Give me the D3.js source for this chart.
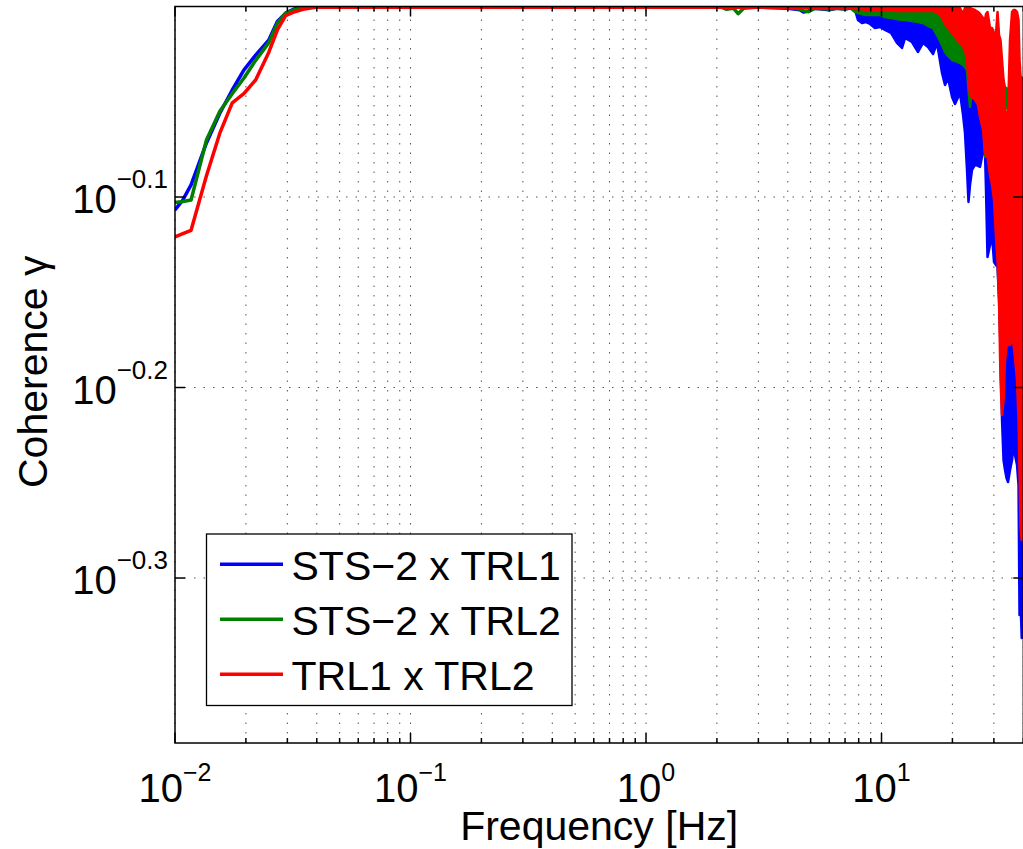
<!DOCTYPE html>
<html>
<head>
<meta charset="utf-8">
<title>Coherence</title>
<script src="https://cdnjs.cloudflare.com/ajax/libs/d3/7.8.5/d3.min.js"></script>
<style>
  body { margin: 0; background: #fff; }
  text { font-family: "Liberation Sans", Arial, Helvetica, sans-serif; fill: #000; }
</style>
</head>
<body>
<svg id="chart" width="1023" height="849"></svg>
<script>
// ---- data ----
var xTickExp = [-2, -1, 0, 1];
var yTickExp = ["-0.1", "-0.2", "-0.3"];
var seriesNames = ["STS\u22122 x TRL1", "STS\u22122 x TRL2", "TRL1 x TRL2"];
var seriesColors = ["#0000ff", "#008000", "#ff0000"];

// smooth part (0.01 .. 7.35 Hz)
var freqLow = [0.0100, 0.0108, 0.0117, 0.0136, 0.0155, 0.0175, 0.0196, 0.0220, 0.0250, 0.0272,
  0.0295, 0.0320, 0.0350, 0.0400, 0.0470, 0.070, 0.20, 0.50, 1.00, 1.80,
  2.10, 2.20, 2.35, 2.46, 2.60, 3.00, 4.00, 4.50, 4.66, 4.90,
  5.20, 6.00, 6.50, 7.00, 7.35];
var blueLow = [0.782, 0.7915, 0.806, 0.848, 0.879, 0.904, 0.926, 0.943, 0.960, 0.982,
  0.992, 0.997, 0.9992, 0.9993, 0.9993, 0.9993, 0.9993, 0.9993, 0.9993, 0.9993,
  0.9993, 0.9993, 0.9993, 0.9993, 0.9993, 0.9993, 0.998, 0.996, 0.9934, 0.9946,
  0.998, 0.996, 0.998, 0.997, 0.9982];
var greenLow = [0.789, 0.790, 0.7915, 0.851, 0.881, 0.900, 0.917, 0.937, 0.957, 0.980,
  0.992, 0.996, 0.999, 0.9993, 0.9993, 0.9993, 0.9993, 0.9993, 0.9993, 0.9993,
  0.999, 0.9966, 0.998, 0.9913, 0.998, 0.9993, 0.9985, 0.997, 0.995, 0.9937,
  0.998, 0.997, 0.998, 0.997, 0.9988];
var redLow = [0.757, 0.760, 0.763, 0.815, 0.858, 0.890, 0.900, 0.915, 0.946, 0.972,
  0.989, 0.9934, 0.9966, 0.9994, 0.9992, 0.9992, 0.9992, 0.9992, 0.9992, 0.9992,
  0.9992, 0.9992, 0.9992, 0.9992, 0.9992, 0.9992, 0.9992, 0.9992, 0.9992, 0.9992,
  0.9992, 0.9992, 0.9992, 0.9992, 0.9988];

// noisy part (7.35 .. 40 Hz): upper / lower envelope of the dense trace
var freqBand = [7.35, 7.72, 7.94, 8.26, 8.59, 8.94, 9.38, 9.85, 10.35, 10.97,
  11.63, 12.22, 12.58, 13.47, 14.29, 15.00, 15.76, 16.55, 17.21, 18.07,
  18.61, 19.16, 19.93, 20.52, 21.54, 22.19, 22.62, 23.07, 23.41, 23.76,
  24.23, 24.95, 25.69, 26.20, 26.98, 27.51, 27.78, 28.19, 28.89, 29.46,
  30.04, 30.64, 31.09, 31.55, 32.01, 32.49, 32.97, 33.46, 33.95, 34.45,
  35.13, 35.83, 36.36, 36.89, 37.62, 38.18, 38.55, 38.93, 39.39, 39.90];
var blueHi = [0.9994, 0.9982, 0.9934, 0.9910, 0.9910, 0.9898, 0.9898, 0.9898, 0.9874, 0.9862,
  0.9838, 0.9838, 0.9838, 0.9826, 0.9814, 0.9803, 0.9779, 0.9755, 0.9696, 0.9603,
  0.9511, 0.9465, 0.9397, 0.9374, 0.9352, 0.9340, 0.9306, 0.9262, 0.9206, 0.9150,
  0.9096, 0.9063, 0.8986, 0.8932, 0.8825, 0.8719, 0.8667, 0.8667, 0.8719, 0.8667,
  0.8511, 0.8409, 0.8359, 0.8308, 0.8208, 0.7915, 0.7451, 0.7015, 0.6684, 0.6604,
  0.6644, 0.6684, 0.6644, 0.6525, 0.6446, 0.6215, 0.5850, 0.5507, 0.5311, 0.5376];
var blueLo = [0.9982, 0.9958, 0.9838, 0.9803, 0.9814, 0.9791, 0.9743, 0.9755, 0.9720, 0.9685,
  0.9569, 0.9511, 0.9626, 0.9580, 0.9465, 0.9569, 0.9522, 0.9442, 0.9569, 0.9228,
  0.9096, 0.9172, 0.8964, 0.8889, 0.9008, 0.8772, 0.8583, 0.8208, 0.7896, 0.8060,
  0.8208, 0.8258, 0.8248, 0.8238, 0.8389, 0.8379, 0.8011, 0.7388, 0.7496, 0.7587,
  0.7343, 0.7317, 0.7299, 0.7015, 0.6644, 0.6067, 0.5780, 0.5710, 0.5655, 0.5628,
  0.5710, 0.5780, 0.5886, 0.5815, 0.5745, 0.5608, 0.4793, 0.4880, 0.4661, 0.5122];
var greenHi = [0.9994, 0.9994, 0.9994, 0.9994, 0.9994, 0.9994, 0.9994, 0.9994, 0.9994, 0.9994,
  0.9994, 0.9994, 0.9994, 0.9994, 0.9994, 0.9994, 0.9994, 0.9982, 0.9958, 0.9934,
  0.9898, 0.9862, 0.9838, 0.9814, 0.9779, 0.9743, 0.9720, 0.9696, 0.9661, 0.9626,
  0.9603, 0.9580, 0.9546, 0.9511, 0.9488, 0.9465, 0.9431, 0.9431, 0.9374, 0.9374,
  0.9352, 0.9318, 0.9318, 0.9262, 0.9262, 0.9206, 0.9150, 0.9063, 0.9063, 0.9041,
  0.8986, 0.8719, 0.8825, 0.8825, 0.8825, 0.8772, 0.8719, 0.8409, 0.8188, 0.8208];
var greenLo = [0.9982, 0.9934, 0.9922, 0.9910, 0.9898, 0.9898, 0.9898, 0.9898, 0.9874, 0.9862,
  0.9850, 0.9838, 0.9838, 0.9826, 0.9814, 0.9803, 0.9767, 0.9743, 0.9661, 0.9546,
  0.9465, 0.9420, 0.9374, 0.9363, 0.9340, 0.9318, 0.9295, 0.9262, 0.9041, 0.8857,
  0.9041, 0.9063, 0.8986, 0.8932, 0.8825, 0.8339, 0.8339, 0.8614, 0.8511, 0.8409,
  0.8308, 0.8409, 0.8511, 0.8511, 0.8614, 0.8719, 0.8825, 0.8857, 0.8857, 0.8825,
  0.8719, 0.7424, 0.8409, 0.8511, 0.8409, 0.8308, 0.8208, 0.8158, 0.7726, 0.7915];
var redHi = [0.9994, 0.9994, 0.9994, 0.9994, 0.9994, 0.9994, 0.9994, 0.9994, 0.9994, 0.9994,
  0.9994, 0.9994, 0.9994, 0.9994, 0.9994, 0.9994, 0.9994, 0.9994, 0.9994, 0.9994,
  0.9994, 0.9994, 0.9994, 0.9994, 0.9982, 0.9910, 0.9982, 0.9982, 0.9982, 0.9982,
  0.9970, 0.9958, 0.9934, 0.9910, 0.9862, 0.9838, 0.9910, 0.9934, 0.9743, 0.9743,
  0.9685, 0.9685, 0.9934, 0.9661, 0.9603, 0.9374, 0.9150, 0.8825, 0.8772, 0.8803,
  0.9603, 0.9934, 0.9958, 0.9958, 0.9934, 0.9838, 0.9374, 0.9194, 0.9172, 0.9172];
var redLo = [0.9982, 0.9970, 0.9970, 0.9970, 0.9958, 0.9958, 0.9958, 0.9958, 0.9958, 0.9958,
  0.9946, 0.9946, 0.9946, 0.9946, 0.9946, 0.9946, 0.9946, 0.9946, 0.9934, 0.9862,
  0.9791, 0.9743, 0.9685, 0.9638, 0.9569, 0.9522, 0.9488, 0.9374, 0.9150, 0.8986,
  0.8964, 0.8932, 0.8878, 0.8750, 0.8614, 0.8379, 0.8359, 0.8339, 0.8158, 0.8060,
  0.7915, 0.7568, 0.7361, 0.7015, 0.6368, 0.6104, 0.6215, 0.6525, 0.6628, 0.6644,
  0.6644, 0.6684, 0.6644, 0.6540, 0.6368, 0.6067, 0.5710, 0.5330, 0.5247, 0.5376];

var lowSets = [blueLow, greenLow, redLow];
var hiSets = [blueHi, greenHi, redHi];
var loSets = [blueLo, greenLo, redLo];

// ---- layout ----
var pL = 175, pR = 1023.3, pT = 6.5, pB = 743;
var x = d3.scaleLog().domain([0.01, 40]).range([pL, pR]);
var y = d3.scaleLog().domain([Math.pow(10, -0.3866), 1]).range([pB, pT]);

var svg = d3.select("#chart");
svg.append("defs").append("clipPath").attr("id", "clip")
  .append("rect")
  .attr("x", pL).attr("y", pT)
  .attr("width", pR - pL).attr("height", pB - pT);

// grid
var xMinor = [];
[0.01, 0.1, 1, 10].forEach(function (d) {
  for (var k = 1; k <= 9; k++) { if (d * k <= 40) xMinor.push(d * k); }
});

svg.selectAll("line.xgrid").data(xMinor).enter()
  .append("line")
  .attr("class", "xgrid")
  .attr("x1", function (d) { return x(d); })
  .attr("x2", function (d) { return x(d); })
  .attr("y1", pB).attr("y2", pT)
  .attr("stroke", "#555").attr("stroke-width", 1)
  .attr("stroke-dasharray", "1.5,8");

svg.selectAll("line.ygrid").data(yTickExp).enter()
  .append("line")
  .attr("class", "ygrid")
  .attr("x1", pL).attr("x2", pR)
  .attr("y1", function (d) { return y(Math.pow(10, +d)); })
  .attr("y2", function (d) { return y(Math.pow(10, +d)); })
  .attr("stroke", "#555").attr("stroke-width", 1)
  .attr("stroke-dasharray", "1.5,8");

// series
var plot = svg.append("g").attr("clip-path", "url(#clip)");
var line = d3.line()
  .x(function (d) { return x(d[0]); })
  .y(function (d) { return y(d[1]); });
var band = d3.area()
  .x(function (d) { return x(d[0]); })
  .y0(function (d) { return y(d[2]); })
  .y1(function (d) { return y(d[1]); });

seriesColors.forEach(function (c, i) {
  var low = freqLow.map(function (f, j) { return [f, lowSets[i][j]]; });
  var hb = freqBand.map(function (f, j) { return [f, hiSets[i][j], loSets[i][j]]; });
  plot.append("path")
    .attr("d", line(low))
    .attr("fill", "none").attr("stroke", c)
    .attr("stroke-width", 3.5).attr("stroke-linejoin", "round");
  plot.append("path")
    .attr("d", band(hb))
    .attr("fill", c).attr("stroke", c)
    .attr("stroke-width", 2.5).attr("stroke-linejoin", "round");
});

// axes box and ticks
var axis = svg.append("g").attr("stroke", "#000").attr("stroke-width", 1.5);
axis.append("rect")
  .attr("x", pL).attr("y", pT)
  .attr("width", pR - pL).attr("height", pB - pT)
  .attr("fill", "none");

xMinor.forEach(function (d) {
  var major = xTickExp.indexOf(Math.round(Math.log10(d) * 1000) / 1000) >= 0;
  var len = major ? 10 : 5;
  axis.append("line").attr("x1", x(d)).attr("x2", x(d)).attr("y1", pB).attr("y2", pB - len);
  axis.append("line").attr("x1", x(d)).attr("x2", x(d)).attr("y1", pT).attr("y2", pT + len);
});
yTickExp.forEach(function (d) {
  var yy = y(Math.pow(10, +d));
  axis.append("line").attr("x1", pL).attr("x2", pL + 10).attr("y1", yy).attr("y2", yy);
  axis.append("line").attr("x1", pR).attr("x2", pR - 10).attr("y1", yy).attr("y2", yy);
});

// tick labels
svg.selectAll("text.xlab").data(xTickExp).enter()
  .append("text")
  .attr("class", "xlab")
  .attr("x", function (d) { return x(Math.pow(10, d)); })
  .attr("y", 802)
  .attr("text-anchor", "middle")
  .each(function (d) {
    var t = d3.select(this);
    t.append("tspan").attr("font-size", 40).text("10");
    t.append("tspan").attr("font-size", 25).attr("dy", -21).text(String(d).replace("-", "\u2212"));
  });

svg.selectAll("text.ylab").data(yTickExp).enter()
  .append("text")
  .attr("class", "ylab")
  .attr("x", 168)
  .attr("y", function (d) { return y(Math.pow(10, +d)) + 16; })
  .attr("text-anchor", "end")
  .each(function (d) {
    var t = d3.select(this);
    t.append("tspan").attr("font-size", 40).text("10");
    t.append("tspan").attr("font-size", 26).attr("dy", -25).text(d.replace("-", "\u2212"));
  });

// axis titles
svg.append("text")
  .attr("x", (pL + pR) / 2).attr("y", 840)
  .attr("text-anchor", "middle").attr("font-size", 41)
  .text("Frequency [Hz]");

svg.append("text")
  .attr("transform", "translate(47," + ((pT + pB) / 2 - 3) + ") rotate(-90)")
  .attr("text-anchor", "middle").attr("font-size", 41)
  .text("Coherence \u03b3");

// legend
var lg = svg.append("g");
lg.append("rect")
  .attr("x", 206.5).attr("y", 534)
  .attr("width", 365.5).attr("height", 171.5)
  .attr("fill", "#fff").attr("stroke", "#000").attr("stroke-width", 1.3);
seriesNames.forEach(function (n, i) {
  var ly = 564.3 + i * 55;
  lg.append("line")
    .attr("x1", 220).attr("x2", 283).attr("y1", ly).attr("y2", ly)
    .attr("stroke", seriesColors[i]).attr("stroke-width", 3.5);
  lg.append("text")
    .attr("x", 291.5).attr("y", ly + 15.7)
    .attr("font-size", 41)
    .text(n);
});
</script>
</body>
</html>
